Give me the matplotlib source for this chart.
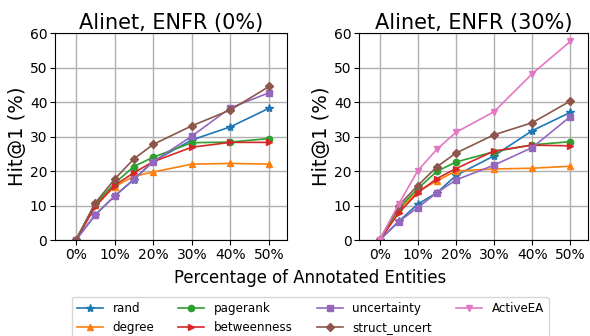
import matplotlib
matplotlib.use("Agg")
import matplotlib.pyplot as plt

# annotated entity percentages
x_pct = [0, 5, 10, 15, 20, 30, 40, 50]

# Alinet, ENFR (0%)
rand_0 = [0, 7.3, 12.7, 17.5, 22.8, 29.0, 32.8, 38.2]
degree_0 = [0, 10.2, 15.4, 18.5, 19.7, 22.0, 22.2, 22.0]
pagerank_0 = [0, 10.4, 16.4, 21.3, 24.0, 28.2, 28.4, 29.4]
betweenness_0 = [0, 9.6, 15.8, 19.5, 22.7, 26.9, 28.3, 28.3]
uncertainty_0 = [0, 7.2, 12.7, 17.6, 22.7, 30.1, 38.3, 42.7]
struct_uncert_0 = [0, 10.7, 17.6, 23.5, 27.7, 33.1, 37.7, 44.5]

# Alinet, ENFR (30%)
rand_30 = [0, 5.4, 10.4, 13.7, 18.7, 24.4, 31.7, 37.0]
degree_30 = [0, 8.7, 14.1, 17.1, 20.0, 20.6, 20.8, 21.4]
pagerank_30 = [0, 9.2, 14.9, 19.9, 22.6, 25.6, 27.6, 28.5]
betweenness_30 = [0, 7.8, 13.7, 17.8, 20.7, 25.8, 27.5, 27.3]
uncertainty_30 = [0, 5.3, 9.4, 13.7, 17.4, 21.7, 26.8, 35.8]
struct_uncert_30 = [0, 10.0, 15.8, 21.2, 25.2, 30.5, 34.0, 40.3]
activeea_30 = [0, 10.4, 20.1, 26.3, 31.2, 37.2, 48.2, 57.6]

labels = ["rand", "degree", "pagerank", "betweenness",
          "uncertainty", "struct_uncert", "ActiveEA"]
markers = ["*", "^", "o", ">", "s", "D", "v"]
colors = ["#1f77b4", "#ff7f0e", "#2ca02c", "#d62728",
          "#9467bd", "#8c564b", "#e377c2"]

fig = plt.figure(figsize=(5.9, 3.36), dpi=100)
ax1 = fig.add_axes([0.0932, 0.2857, 0.393, 0.616])
ax2 = fig.add_axes([0.6085, 0.2857, 0.388, 0.616])

panels = [
    (ax1, "Alinet, ENFR (0%)",
     [rand_0, degree_0, pagerank_0, betweenness_0, uncertainty_0, struct_uncert_0]),
    (ax2, "Alinet, ENFR (30%)",
     [rand_30, degree_30, pagerank_30, betweenness_30, uncertainty_30,
      struct_uncert_30, activeea_30]),
]

for ax, title, series in panels:
    for i, ys in enumerate(series):
        ms = 6 if markers[i] == "*" else 4.5
        ax.plot(x_pct, ys, marker=markers[i], color=colors[i], label=labels[i],
                linewidth=1.2, markersize=ms)
    ax.set_title(title, fontsize=15, pad=3)
    ax.set_ylabel("Hit@1 (%)", fontsize=14, labelpad=2)
    ax.set_xlim(-5.4, 54.6)
    ax.set_ylim(0, 60)
    ax.set_xticks([0, 10, 20, 30, 40, 50])
    ax.set_xticklabels(["0%", "10%", "20%", "30%", "40%", "50%"])
    ax.set_yticks([0, 10, 20, 30, 40, 50, 60])
    ax.tick_params(labelsize=10, pad=2)
    ax.grid(True, color="#b0b0b0", linewidth=1)
    ax.set_axisbelow(True)

fig.text(0.526, 0.172, "Percentage of Annotated Entities", ha="center",
         va="center", fontsize=11.9)

handles, lbls = ax2.get_legend_handles_labels()
fig.legend(handles, lbls, loc="upper center", bbox_to_anchor=(0.526, 0.115),
           ncol=4, fontsize=8.6, frameon=True, handlelength=2.2,
           columnspacing=2.0, borderaxespad=0)

fig.savefig("out.png", dpi=100)
